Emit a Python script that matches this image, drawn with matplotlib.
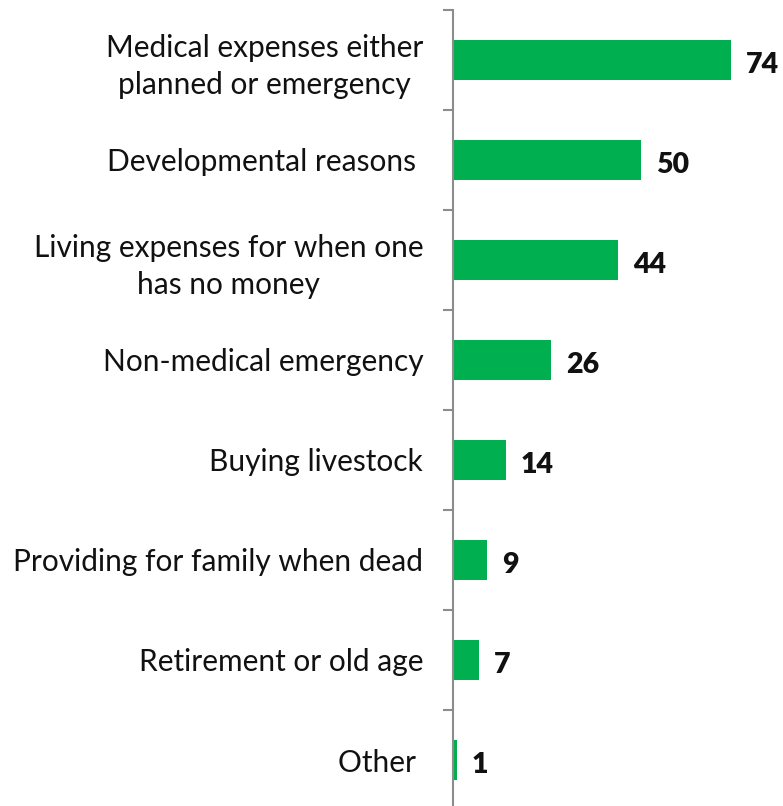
import matplotlib.pyplot as plt

categories = [
    "Medical expenses either\nplanned or emergency",
    "Developmental reasons ",
    "Living expenses for when one\nhas no money",
    "Non-medical emergency",
    "Buying livestock",
    "Providing for family when dead",
    "Retirement or old age",
    "Other ",
]
values = [74, 50, 44, 26, 14, 9, 7, 1]

plt.rcParams['font.family'] = ['Lato', 'DejaVu Sans']

W, H = 783, 806
fig = plt.figure(figsize=(W / 100, H / 100), dpi=100)
ax_left, ax_top, ax_bottom = 453, 10, 810
ax = fig.add_axes([ax_left / W, 1 - ax_bottom / H, (W - ax_left) / W, (ax_bottom - ax_top) / H])

pos = list(range(len(categories)))
ax.barh(pos, values, height=0.4, color='#00B050')
ax.set_xlim(0, (W - ax_left) / (278 / 74))
ax.set_ylim(len(categories) - 0.5, -0.5)

for y, v in zip(pos, values):
    ax.text(v + 4, y + 0.05, str(v), va='center', ha='left',
            fontsize=20.5, fontweight='heavy', color='#111111')

# category labels sit on the major ticks, separators on the minor ones
ax.set_yticks(pos)
ax.set_yticklabels(categories, fontsize=21.5, color='#111111',
                   multialignment='center', linespacing=1.35)
ax.set_yticks([p - 0.5 for p in range(len(categories) + 1)], minor=True)
ax.tick_params(axis='y', which='major', length=0, pad=21.5)
ax.tick_params(axis='y', which='minor', length=7, width=1.5, color='#8c8c8c')
ax.set_xticks([])

for side in ['top', 'right', 'bottom']:
    ax.spines[side].set_visible(False)
ax.spines['left'].set_color('#8c8c8c')
ax.spines['left'].set_linewidth(1.5)

fig.savefig('out.png', dpi=100)
